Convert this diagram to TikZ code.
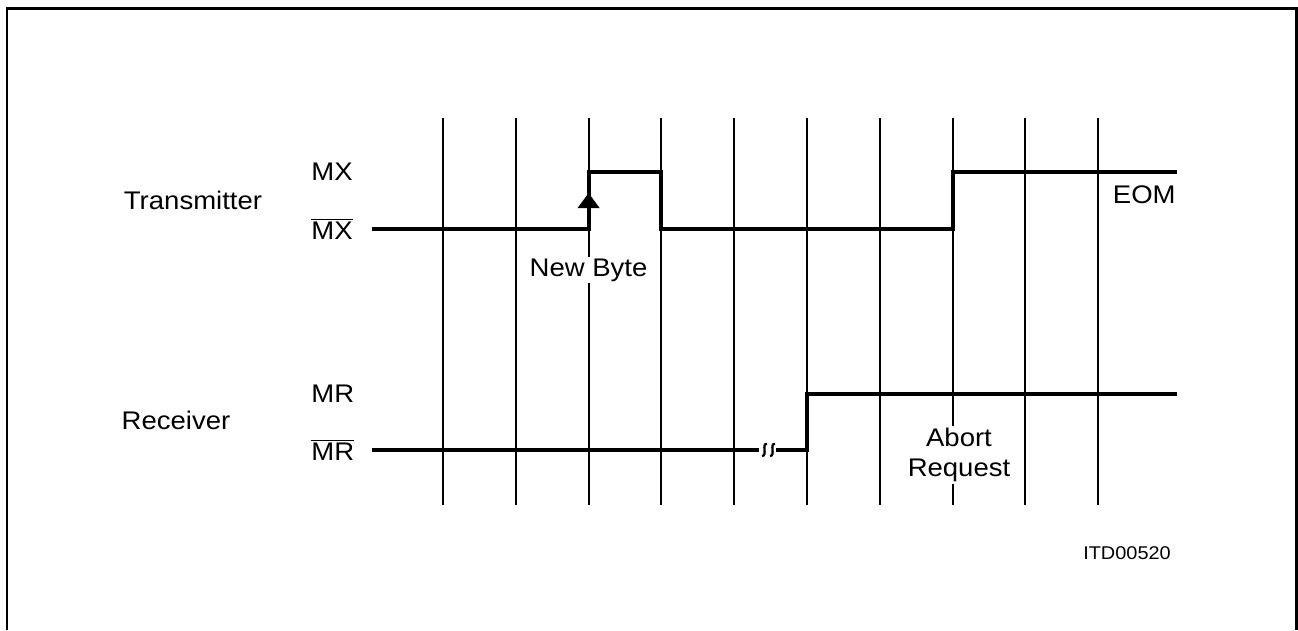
\documentclass[tikz,border=0pt]{standalone}
\usepackage{fontspec}
\setmainfont{Liberation Sans}[FakeStretch=1.08]
\usepackage{tikz}
\usetikzlibrary{arrows.meta}

\begin{document}
\begin{tikzpicture}[x=0.02cm,y=-0.02cm,font=\fontsize{14.5}{17}\selectfont,
  sig/.style={line width=2.3pt},grid/.style={line width=1.1pt},
  lbl/.style={fill=white,inner sep=1pt}]
\useasboundingbox (0,0) rectangle (1298,630);
\draw[line width=1.7pt] (7,630)--(7,8)--(1296,8)--(1296,630);
\foreach \k in {0,...,9} \draw[grid] (443+72.8*\k,118)--(443+72.8*\k,505);
% transmitter
\node (tx) at (193,200) {Transmitter};
\node[anchor=west,inner sep=0pt] (mx) at (311,172) {MX};
\node[anchor=west,inner sep=0pt] (mxn) at (311,229) {$\overline{\mbox{MX}}$};
\draw[sig] (372,229)--(588.6,229)--(588.6,172)--(661.4,172)--(661.4,229)--(952.6,229)--(952.6,172)--(1177,172);
\fill (577.6,208)--(599.6,208)--(588.6,193)--cycle;
\node[lbl] (newbyte) at (588.6,270) {New Byte};
\node[anchor=east,inner sep=0pt] (eom) at (1176,195) {EOM};
% receiver
\node (rx) at (176,420) {Receiver};
\node[anchor=west,inner sep=0pt] (mr) at (311,394) {MR};
\node[anchor=west,inner sep=0pt] (mrn) at (311,450) {$\overline{\mbox{MR}}$};
\draw[sig] (372,450)--(759,450);
\draw[sig] (776,450)--(807,450)--(807,394)--(1177,394);
\foreach \s in {764,772} \draw[line width=1.3pt] (\s+3,444) .. controls (\s-3,443) and (\s+4,456) .. (\s-2,456);
\node[lbl,align=center] (abort) at (959,455) {Abort\\Request};
\node[font=\fontsize{10.5}{12}\selectfont] (itd) at (1127,553) {ITD00520};
\end{tikzpicture}
\end{document}
